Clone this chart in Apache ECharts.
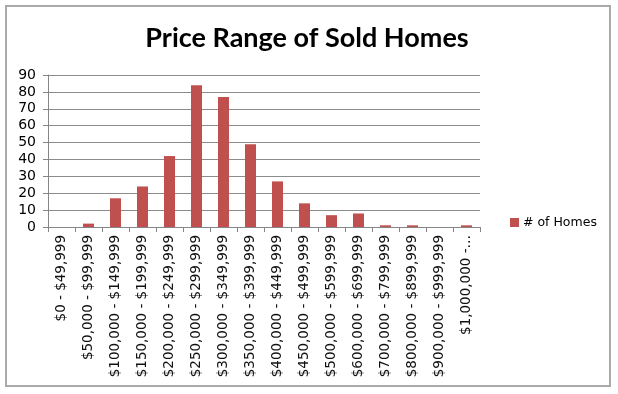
<!DOCTYPE html>
<html>
<head>
<meta charset="utf-8">
<script src="https://cdn.jsdelivr.net/npm/echarts@6/dist/echarts.min.js"></script>
<style>
html,body{margin:0;padding:0;background:#fff;}
#c{width:618px;height:394px;}
</style>
</head>
<body>
<div id="c"></div>
<script>
var categories = ["$0 - $49,999","$50,000 - $99,999","$100,000 - $149,999","$150,000 - $199,999","$200,000 - $249,999","$250,000 - $299,999","$300,000 - $349,999","$350,000 - $399,999","$400,000 - $449,999","$450,000 - $499,999","$500,000 - $599,999","$600,000 - $699,999","$700,000 - $799,999","$800,000 - $899,999","$900,000 - $999,999","$1,000,000 -…"];
var homes = [0, 2, 17, 24, 42, 84, 77, 49, 27, 14, 7, 8, 1, 1, 0, 1];
var seriesName = "# of Homes";
var titleText = "Price Range of Sold Homes";

var chart = echarts.init(document.getElementById('c'));
chart.setOption({
  backgroundColor: '#fff',
  animation: false,
  title: {
    text: titleText,
    left: 302, top: 20, textAlign: 'center',
    textStyle: {fontFamily: 'Lato', fontWeight: 'bold', fontSize: 27, color: '#000'}
  },
  graphic: [{
    type: 'rect', shape: {x: 6, y: 6, width: 604, height: 380},
    style: {fill: 'none', stroke: '#aaaaaa', lineWidth: 2}, silent: true, z: -1
  }],
  legend: {
    data: [seriesName], orient: 'vertical', left: 505, top: 211,
    itemWidth: 9, itemHeight: 9, itemGap: 5,
    icon: 'rect',
    textStyle: {fontFamily: 'DejaVu Sans', fontSize: 12.5, color: '#000', padding: [0,0,0,-1]}
  },
  grid: {left: 48, right: 138, top: 75, bottom: 167},
  xAxis: {
    type: 'category', data: categories,
    axisLine: {lineStyle: {color: '#868686', width: 1}},
    axisTick: {show: true, length: 5, lineStyle: {color: '#868686'}},
    axisLabel: {rotate: 90, margin: 8, interval: 0, fontFamily: 'DejaVu Sans', fontSize: 13.5, color: '#111'}
  },
  yAxis: {
    type: 'value', min: 0, max: 90, interval: 10,
    axisLine: {show: true, lineStyle: {color: '#868686', width: 1}},
    axisTick: {show: true, length: 5, lineStyle: {color: '#868686'}},
    splitLine: {lineStyle: {color: '#8c8c8c', width: 1}},
    axisLabel: {margin: 12, fontFamily: 'DejaVu Sans', fontSize: 14, color: '#000'}
  },
  series: [{
    name: seriesName, type: 'bar', data: homes, barWidth: 11,
    itemStyle: {color: '#C0504D'}
  }]
});
</script>
</body>
</html>
